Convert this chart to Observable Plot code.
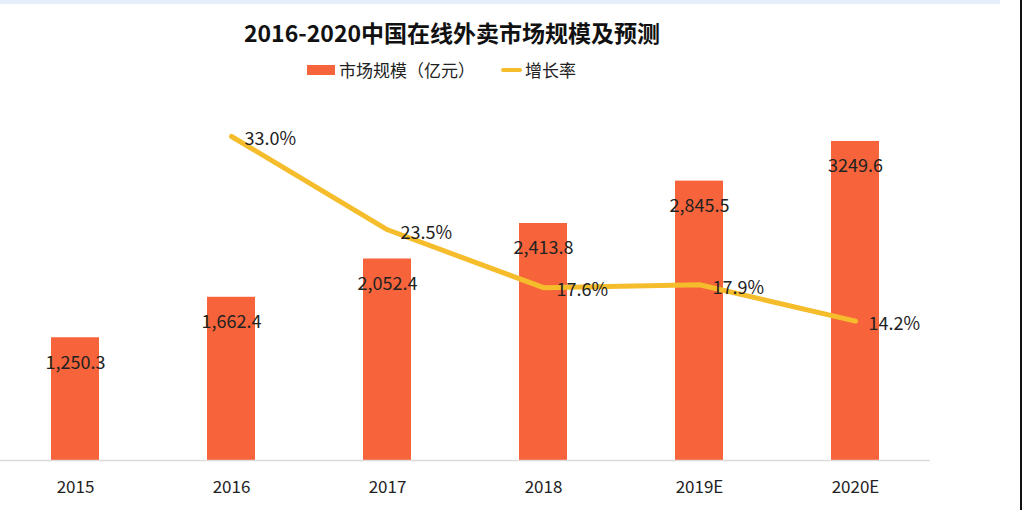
<!DOCTYPE html>
<html>
<head>
<meta charset="utf-8">
<script src="https://cdn.jsdelivr.net/npm/d3@7"></script>
<script src="https://cdn.jsdelivr.net/npm/@observablehq/plot@0.6"></script>
<style>
  html, body { margin: 0; padding: 0; background: #fff; }
  body { width: 1024px; height: 510px; position: relative; overflow: hidden;
         font-family: "Noto Sans CJK SC", "Noto Sans", sans-serif; color: #222; }
  #topstrip { position: absolute; left: 0; top: 0; width: 1000px; height: 4px; background: #e4edf8; }
  #edge { position: absolute; left: 1020px; top: 0; width: 2px; height: 510px; background: #111; }
  #header { position: relative; height: 100px; }
  #title { position: absolute; left: 0; width: 904px; top: 16px; text-align: center;
           font-size: 23px; font-weight: 600; color: #111; line-height: 32px; }
  #legend { position: absolute; left: 307px; top: 58px; display: flex; align-items: center;
            font-size: 17px; line-height: 24px; color: #222; }
  .sw-bar { width: 28px; height: 10px; background: #F7643B; margin-right: 4px; }
  .sw-line { width: 21px; height: 4px; background: #F5BD2C; margin-left: 26px; margin-right: 3px; border-radius: 2px; }
  #chart { position: relative; }
</style>
</head>
<body>
<div id="topstrip"></div>
<div id="header">
  <div id="title">2016-2020中国在线外卖市场规模及预测</div>
  <div id="legend">
    <div class="sw-bar"></div><span>市场规模（亿元）</span>
    <div class="sw-line"></div><span>增长率</span>
  </div>
</div>
<div id="chart"></div>
<div id="edge"></div>
<script>
const years = ["2015", "2016", "2017", "2018", "2019E", "2020E"];
const marketSize = [1250.3, 1662.4, 2052.4, 2413.8, 2845.5, 3249.6];
const sizeLabels = ["1,250.3", "1,662.4", "2,052.4", "2,413.8", "2,845.5", "3249.6"];
const rateYears = ["2016", "2017", "2018", "2019E", "2020E"];
const growthRate = [33.0, 23.5, 17.6, 17.9, 14.2];
const rateLabels = ["33.0%", "23.5%", "17.6%", "17.9%", "14.2%"];

const bars = years.map((y, i) => ({year: y, value: marketSize[i], label: sizeLabels[i]}));
// growth rate drawn on a secondary axis where 33% ↔ 3300 (same height)
const rates = rateYears.map((y, i) => ({year: y, value: growthRate[i] * 100, label: rateLabels[i]}));

const chart = Plot.plot({
  width: 1024,
  height: 410,
  marginLeft: 0,
  marginRight: 94,
  marginTop: 36,
  marginBottom: 50,
  style: {fontFamily: '"Noto Sans CJK SC", "Noto Sans", sans-serif', fontSize: "17px", color: "#222", background: "transparent"},
  x: {domain: years, paddingInner: 0.69, paddingOuter: 0.32, tickSize: 0, tickPadding: 20, label: null},
  y: {domain: [0, 3300], axis: null},
  marks: [
    Plot.barY(bars, {x: "year", y: "value", fill: "#F7643B"}),
    Plot.ruleY([0], {stroke: "#dcdcdc", strokeWidth: 1.5}),
    Plot.text(bars, {x: "year", y: "value", text: "label", dy: 25, fontSize: 18, fill: "#222"}),
    Plot.line(rates, {x: "year", y: "value", stroke: "#F5BD2C", strokeWidth: 5, strokeLinejoin: "round", strokeLinecap: "round"}),
    Plot.text(rates, {x: "year", y: "value", text: "label", dx: 13, dy: 3, textAnchor: "start", fontSize: 18, fill: "#222"})
  ]
});
document.getElementById("chart").appendChild(chart);
</script>
</body>
</html>
